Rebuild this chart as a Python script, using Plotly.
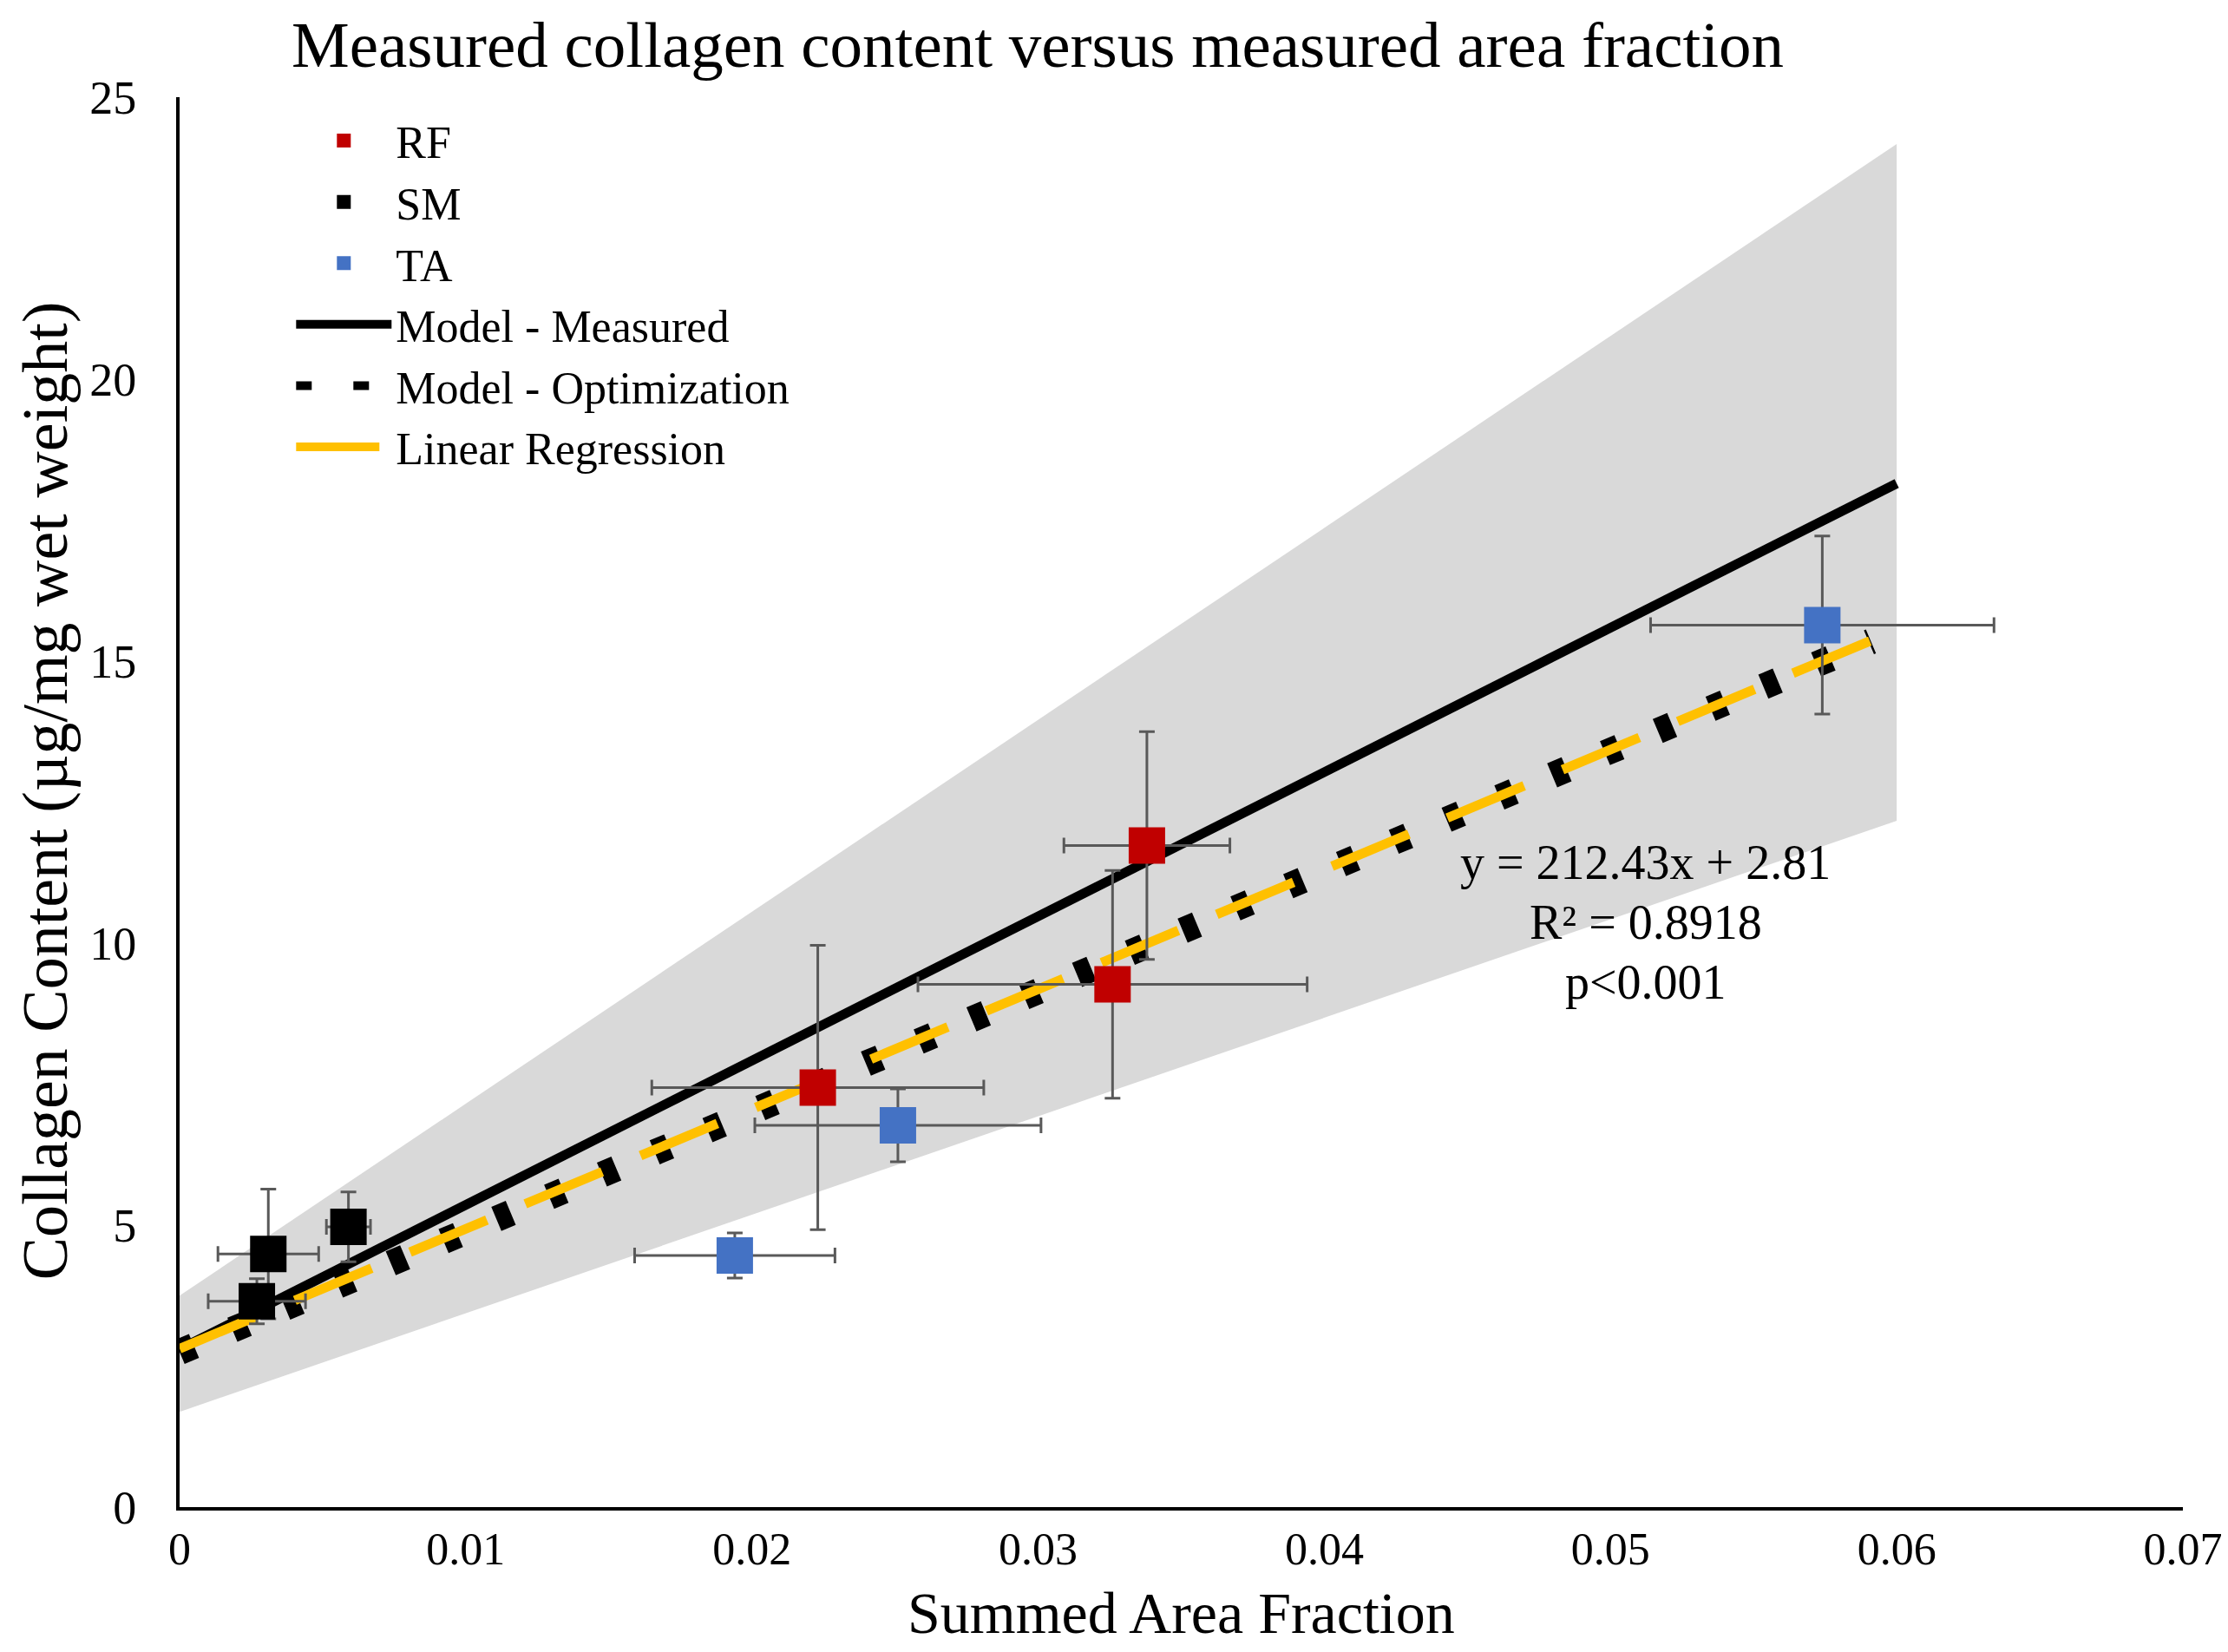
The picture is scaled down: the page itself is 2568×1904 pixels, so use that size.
import plotly.graph_objects as go

# ---- data ----
rf_x = [0.0338, 0.0326, 0.0223]
rf_y = [11.73, 9.27, 7.44]
rf_xerr = [0.0029, 0.0068, 0.0058]
rf_yerr = [2.02, 2.02, 2.52]

sm_x = [0.0031, 0.0059, 0.0027]
sm_y = [4.49, 4.97, 3.65]
sm_xerr = [0.00176, 0.00077, 0.0017]
sm_yerr = [1.15, 0.62, 0.40]

ta_x = [0.0574, 0.0251, 0.0194]
ta_y = [15.64, 6.77, 4.46]
ta_xerr = [0.0060, 0.0050, 0.0035]
ta_yerr = [1.58, 0.645, 0.40]

measured_x = [0.0, 0.06]
measured_y = [2.80, 18.15]

optim_x = [0.0, 0.0591]
optim_y = [2.75, 15.35]

reg_x = [0.0, 0.06]
reg_slope = 212.43
reg_intercept = 2.81
reg_y = [reg_slope * v + reg_intercept for v in reg_x]

band_x = [0.0, 0.06, 0.06, 0.0]
band_y = [3.75, 24.17, 12.17, 1.69]

x_ticks = [0, 0.01, 0.02, 0.03, 0.04, 0.05, 0.06, 0.07]
y_ticks = [0, 5, 10, 15, 20, 25]

FONT = "Liberation Serif"
ERR = "#595959"

fig = go.Figure()

fig.add_trace(go.Scatter(x=band_x, y=band_y, fill="toself", mode="lines",
                         line=dict(width=0), fillcolor="#d9d9d9",
                         showlegend=False, hoverinfo="skip"))

fig.add_trace(go.Scatter(x=measured_x, y=measured_y, mode="lines",
                         name="Model - Measured", legendrank=4,
                         line=dict(color="black", width=11)))

fig.add_trace(go.Scatter(x=optim_x, y=optim_y, mode="lines",
                         name="Model - Optimization", legendrank=5,
                         line=dict(color="black", width=30,
                                   dash="18px,48px")))

fig.add_trace(go.Scatter(x=reg_x, y=reg_y, mode="lines",
                         name="Linear Regression", legendrank=6,
                         line=dict(color="#ffc000", width=11,
                                   dash="96px,48px")))


def pts(x, y, xe, ye, color, name, rank):
    return go.Scatter(
        x=x, y=y, mode="markers", name=name, legendrank=rank,
        marker=dict(symbol="square", size=42, color=color),
        error_x=dict(type="data", array=xe, color=ERR, thickness=3, width=9),
        error_y=dict(type="data", array=ye, color=ERR, thickness=3, width=9),
    )


fig.add_trace(pts(rf_x, rf_y, rf_xerr, rf_yerr, "#c00000", "RF", 1))
fig.add_trace(pts(sm_x, sm_y, sm_xerr, sm_yerr, "#000000", "SM", 2))
fig.add_trace(pts(ta_x, ta_y, ta_xerr, ta_yerr, "#4472c4", "TA", 3))

# regression equation text
ann_lines = ["y = 212.43x + 2.81", "R² = 0.8918", "p&lt;0.001"]
ann_y = [11.43, 10.37, 9.31]
for t, yy in zip(ann_lines, ann_y):
    fig.add_annotation(x=0.05123, y=yy, xref="x", yref="y", text=t,
                       showarrow=False, xanchor="center", yanchor="middle",
                       font=dict(family=FONT, size=56, color="black"))

# axis titles as annotations (exact placement)
fig.add_annotation(x=0.5, y=-0.07508, xref="paper", yref="paper",
                   text="Summed Area Fraction", showarrow=False,
                   xanchor="center", yanchor="middle",
                   font=dict(family=FONT, size=68, color="black"))
fig.add_annotation(x=-0.0672, y=0.508, xref="paper", yref="paper",
                   text="Collagen Content (µg/mg wet weight)", showarrow=False,
                   textangle=-90, xanchor="center", yanchor="middle",
                   font=dict(family=FONT, size=74, color="black"))

# the page adds an 8px body margin, so the figure is offset to compensate
fig.update_layout(
    width=2560, height=1888,
    margin=dict(l=199, r=52, t=104, b=159, autoexpand=False),
    paper_bgcolor="white", plot_bgcolor="white",
    font=dict(family=FONT, color="black"),
    title=dict(text="Measured collagen content versus measured area fraction",
               x=0.4641, xanchor="center", y=0.97722, yanchor="middle",
               yref="container", automargin=False,
               font=dict(family=FONT, size=75, color="black")),
    legend=dict(x=0.056, y=0.994, xanchor="left", yanchor="top",
                bgcolor="rgba(0,0,0,0)", font=dict(family=FONT, size=52, color="black"),
                itemwidth=110, tracegroupgap=0),
    showlegend=True,
)

fig.update_xaxes(range=[0, 0.07], tickvals=x_ticks,
                 ticktext=[f"{v:g}" for v in x_ticks],
                 showgrid=False, zeroline=False, showline=True, automargin=False,
                 linecolor="black", linewidth=4, ticks="",
                 tickfont=dict(family=FONT, size=52, color="black"),
                 ticklabelstandoff=0)
fig.update_yaxes(range=[0, 25], tickvals=y_ticks,
                 showgrid=False, zeroline=False, showline=True, automargin=False,
                 linecolor="black", linewidth=4, ticks="",
                 tickfont=dict(family=FONT, size=54, color="black"),
                 ticklabelstandoff=35)

fig.write_html("out.html")
